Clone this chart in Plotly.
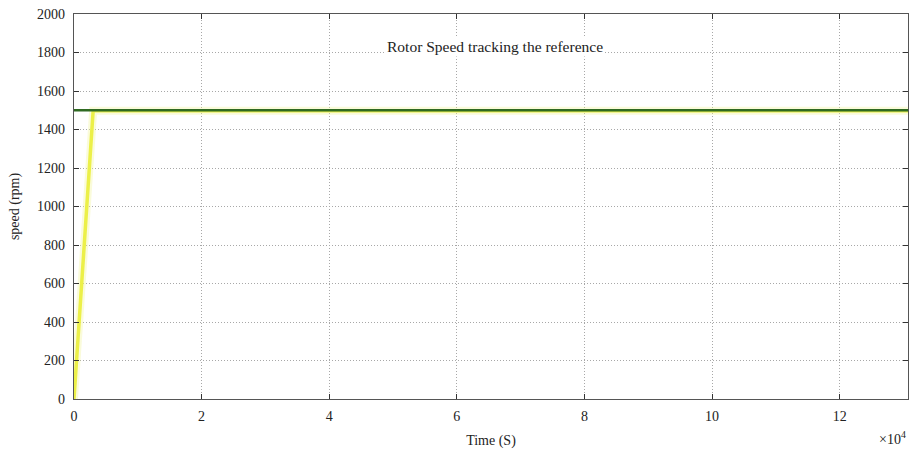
import plotly.graph_objects as go

# Simulation time (s) and measured rotor speed (rpm)
time_s = [0, 3000, 131000]
rotor_speed_rpm = [0, 1497, 1497]

# Speed reference (rpm)
ref_time_s = [0, 131000]
ref_speed_rpm = [1500, 1500]

x_tick_vals = [0, 20000, 40000, 60000, 80000, 100000, 120000]
x_tick_labels = ["0", "2", "4", "6", "8", "10", "12"]
y_tick_vals = [0, 200, 400, 600, 800, 1000, 1200, 1400, 1600, 1800, 2000]

SERIF = "Liberation Serif, Times New Roman, serif"

fig = go.Figure()

# soft halo under the measured speed
fig.add_trace(go.Scatter(
    x=time_s, y=rotor_speed_rpm, mode="lines",
    line=dict(color="rgba(240,244,150,0.35)", width=8),
    hoverinfo="skip", showlegend=False,
))
fig.add_trace(go.Scatter(
    x=time_s, y=rotor_speed_rpm, mode="lines",
    line=dict(color="#ecf048", width=3.5),
    name="Rotor speed", showlegend=False,
))
fig.add_trace(go.Scatter(
    x=ref_time_s, y=ref_speed_rpm, mode="lines",
    line=dict(color="#2f6a22", width=2.5),
    name="Reference", showlegend=False,
))

axis_common = dict(
    showline=True, linecolor="#555555", linewidth=1.2,
    mirror="allticks", ticks="inside", ticklen=5, tickcolor="#333333",
    showgrid=True, gridcolor="#a8a8a8", griddash="1px,2px", gridwidth=1,
    zeroline=False,
    tickfont=dict(family=SERIF, size=14, color="#222222"),
)

fig.update_xaxes(
    range=[0, 130700], tickvals=x_tick_vals, ticktext=x_tick_labels,
    title=dict(text="Time (S)", font=dict(family=SERIF, size=14, color="#222222"), standoff=12),
    ticklabelstandoff=4,
    **axis_common,
)
fig.update_yaxes(
    range=[0, 2000], tickvals=y_tick_vals,
    title=dict(text="speed (rpm)", font=dict(family=SERIF, size=14, color="#222222"), standoff=14),
    ticklabelstandoff=5,
    **axis_common,
)

fig.add_annotation(
    x=65900, y=1830, xref="x", yref="y",
    text="Rotor Speed tracking the reference",
    showarrow=False, bgcolor="white",
    font=dict(family=SERIF, size=15.5, color="#222222"),
)
fig.add_annotation(
    x=1.0, y=-0.10, xref="paper", yref="paper", xanchor="right", yanchor="middle",
    text="×10<sup>4</sup>", showarrow=False,
    font=dict(family=SERIF, size=14, color="#222222"),
)

fig.update_layout(
    width=909, height=453,
    margin=dict(l=74, r=1, t=14, b=54),
    paper_bgcolor="white", plot_bgcolor="white",
    font=dict(family=SERIF, size=14, color="#222222"),
)

fig.write_html("out.html")
